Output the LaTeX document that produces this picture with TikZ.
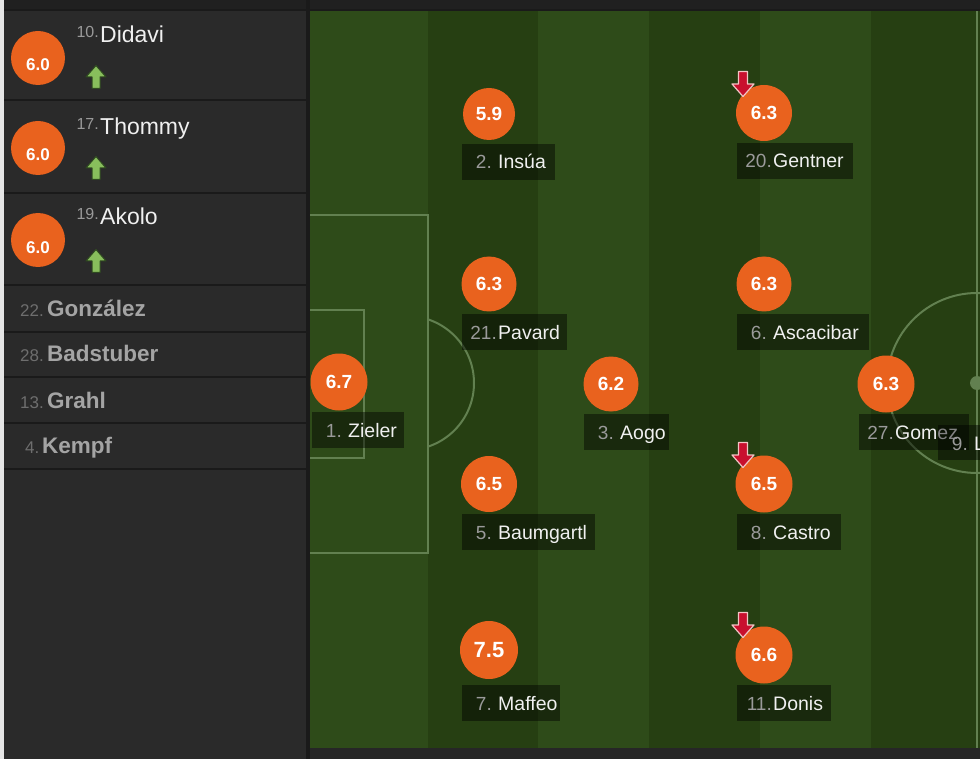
\documentclass[tikz,border=0pt]{standalone}
\usepackage{fontspec}
\setmainfont{Liberation Sans}
\usetikzlibrary{calc}
\definecolor{panel}{HTML}{2A2A2A}
\definecolor{sep}{HTML}{1A1A1A}
\definecolor{topbar}{HTML}{202020}
\definecolor{pitchL}{HTML}{2E4B19}
\definecolor{pitchD}{HTML}{263F12}
\definecolor{plinecol}{HTML}{628050}
\definecolor{orng}{HTML}{E9621E}
\definecolor{numgray}{HTML}{9A9A9A}
\definecolor{namewhite}{HTML}{F0F0F0}
\definecolor{benchname}{HTML}{A4A4A4}
\definecolor{benchnum}{HTML}{6E6E6E}
\definecolor{upfill}{HTML}{88BE5C}
\definecolor{upline}{HTML}{2F4A20}
\definecolor{downfill}{HTML}{C8102E}
\definecolor{downline}{HTML}{F2C4C4}
\tikzset{
  rating/.style={circle, fill=orng, text=white, font=\fontsize{19}{19}\bfseries\selectfont, minimum size=54pt, inner sep=0pt},
  lblbox/.style={fill=black, fill opacity=0.45, minimum height=36pt, inner sep=0pt, anchor=north west},
  numtxt/.style={text=numgray, font=\fontsize{19}{19}\selectfont, inner sep=0pt, anchor=base east},
  nametxt/.style={text=namewhite, font=\fontsize{19.5}{19.5}\selectfont, inner sep=0pt, anchor=base west},
  pline/.style={draw=plinecol, line width=2pt},
  uparrow/.style={fill=upfill, draw=upline, line width=1pt, line join=round},
  downarrow/.style={fill=downfill, draw=downline, line width=1.2pt, line join=round},
  subname/.style={text=namewhite, font=\fontsize{23}{23}\selectfont, inner sep=0pt, anchor=base west},
  subnum/.style={text=numgray, font=\fontsize{16}{16}\selectfont, inner sep=0pt, anchor=base east},
  benchnm/.style={text=benchname, font=\fontsize{22.5}{22.5}\bfseries\selectfont, inner sep=0pt, anchor=base west},
  benchno/.style={text=benchnum, font=\fontsize{17}{17}\selectfont, inner sep=0pt, anchor=base west},
  subrate/.style={circle, fill=orng, minimum size=54pt, inner sep=0pt},
  subratetxt/.style={text=white, font=\fontsize{17}{17}\bfseries\selectfont, inner sep=0pt},
}
% id, x, y, rating, number, name, box width, circle size
\newcommand\plr[8]{%
  \node[rating, minimum size=#8] (#1) at (#2,#3) {#4};
  \node[lblbox, minimum width=#7] (#1box) at ($(#1.center)+(-27,30)$) {};
  \node[numtxt] (#1num) at ($(#1box.north west)+(35,25)$) {#5};
  \node[nametxt] (#1name) at ($(#1box.north west)+(36,25)$) {#6};
}
\newcommand\uparr[1]{\draw[uparrow, shift={(#1)}] (-4,11.5) -- (4,11.5) -- (4,0) -- (10,0) -- (0,-11.5) -- (-10,0) -- (-4,0) -- cycle;}
\newcommand\downarr[1]{\draw[downarrow, shift={(#1)}] (-4.5,-12.5) -- (4.5,-12.5) -- (4.5,0) -- (11,0) -- (0,12.5) -- (-11,0) -- (-4.5,0) -- cycle;}
\begin{document}
\begin{tikzpicture}[x=1pt,y=-1pt]
\useasboundingbox (0,0) rectangle (980,759);
% background
\fill[panel] (0,0) rectangle (980,759);
\fill[topbar] (0,0) rectangle (980,10);
\fill[sep] (0,9) rectangle (980,11);
\fill[black!85] (310,748) rectangle (980,759);
% left light border
\fill[gray!20] (0,0) rectangle (4,759);
% panel row separators
\foreach \yy in {100,193,285,332,377,423,469}{\fill[sep] (4,\yy-1) rectangle (308,\yy+1);}
\fill[sep] (306,0) rectangle (310,759);
% pitch
\begin{scope}
\clip (310,11) rectangle (980,748);
\fill[pitchL] (310,11) rectangle (428,748);
\fill[pitchD] (428,11) rectangle (538,748);
\fill[pitchL] (538,11) rectangle (649,748);
\fill[pitchD] (649,11) rectangle (760,748);
\fill[pitchL] (760,11) rectangle (871,748);
\fill[pitchD] (871,11) rectangle (980,748);
\draw[pline] (310,215) -- (428,215) -- (428,553) -- (310,553);
\draw[pline] (310,310) -- (364,310) -- (364,458) -- (310,458);
\begin{scope}
\clip (429,11) rectangle (600,748);
\draw[pline] (407,383) circle[radius=67];
\end{scope}
\draw[pline] (977,11) -- (977,748);
\draw[pline] (977,383) circle[radius=90];
\fill[plinecol] (977,383) circle[radius=7];
% players
\plr{insua}{489}{114}{5.9}{2.\kern5pt}{Insúa}{93}{52}
\plr{gentner}{764}{113}{6.3}{20.}{Gentner}{116}{56}
\plr{pavard}{489}{284}{6.3}{21.}{Pavard}{105}{55}
\plr{ascacibar}{764}{284}{6.3}{6.\kern5pt}{Ascacibar}{132}{55}
\plr{zieler}{339}{382}{6.7}{1.\kern5pt}{Zieler}{92}{57}
\plr{aogo}{611}{384}{6.2}{3.\kern5pt}{Aogo}{85}{55}
\plr{gomez}{886}{384}{6.3}{27.}{Gomez}{110}{57}
\node[lblbox, minimum width=60, minimum height=35pt] (lbox) at (938,425) {};
\node[numtxt] (lnum) at ($(lbox.north west)+(35,25)$) {9.\kern5pt};
\node[nametxt] (lname) at ($(lbox.north west)+(36,25)$) {L};
\plr{baumgartl}{489}{484}{6.5}{5.\kern5pt}{Baumgartl}{133}{56}
\plr{castro}{764}{484}{6.5}{8.\kern5pt}{Castro}{104}{57}
\node[rating, minimum size=58pt, font=\fontsize{22}{22}\bfseries\selectfont] (maffeo) at (489,650) {7.5};
\node[lblbox, minimum width=98] (maffeobox) at (462,685) {};
\node[numtxt] (maffeonum) at ($(maffeobox.north west)+(35,25)$) {7.\kern5pt};
\node[nametxt] (maffeoname) at ($(maffeobox.north west)+(36,25)$) {Maffeo};
\plr{donis}{764}{655}{6.6}{11.}{Donis}{94}{57}
\downarr{743,84}
\downarr{743,455}
\downarr{743,625}
\end{scope}
% substitutes
\node[subrate] (s1) at (38,58) {};
\node[subratetxt] (s1t) at (38,65) {6.0};
\node[subnum] (s1n) at (99,38) {10.};
\node[subname] (s1m) at (100,43) {Didavi};
\uparr{96,77}
\node[subrate] (s2) at (38,148) {};
\node[subratetxt] (s2t) at (38,155) {6.0};
\node[subnum] (s2n) at (99,130) {17.};
\node[subname] (s2m) at (100,135) {Thommy};
\uparr{96,168}
\node[subrate] (s3) at (38,240) {};
\node[subratetxt] (s3t) at (38,248) {6.0};
\node[subnum] (s3n) at (99,220) {19.};
\node[subname] (s3m) at (100,225) {Akolo};
\uparr{96,261}
% bench
\node[benchno] (b1n) at (20,317) {22.};
\node[benchnm] (b1m) at (47,317) {González};
\node[benchno] (b2n) at (20,362) {28.};
\node[benchnm] (b2m) at (47,362) {Badstuber};
\node[benchno] (b3n) at (20,408) {13.};
\node[benchnm] (b3m) at (47,408) {Grahl};
\node[benchno] (b4n) at (25,453) {4.};
\node[benchnm] (b4m) at (42,453) {Kempf};
\end{tikzpicture}
\end{document}
